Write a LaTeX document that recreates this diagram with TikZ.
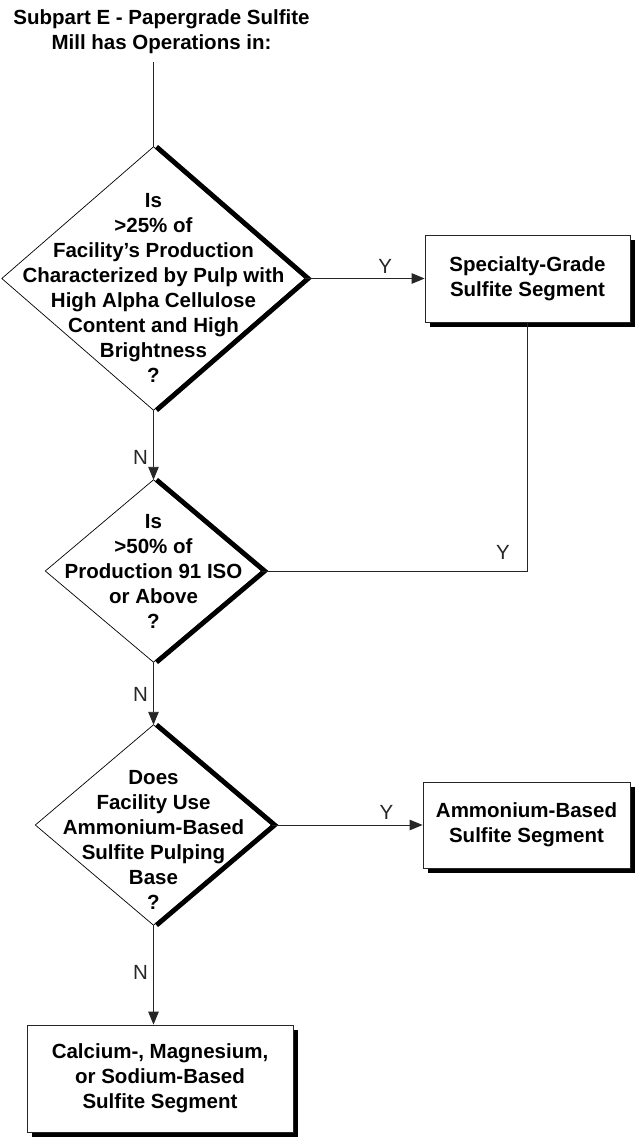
\documentclass[tikz,border=0pt]{standalone}
\usepackage{fontspec}
\setmainfont{Liberation Sans}
\usetikzlibrary{arrows.meta,shadows}
\tikzset{
  txt/.style = {align=center, inner sep=0pt, text centered,
    font=\bfseries\fontsize{20.5}{25}\selectfont},
  dec/.style 2 args = {txt, rectangle, minimum width=#1, minimum height=#2},% decision (diamond drawn from its anchors)
  seg/.style = {txt, rectangle, draw=black!85, line width=0.8pt, fill=white,
    drop shadow={shadow xshift=4.5pt, shadow yshift=-4.5pt, fill=black, opacity=1}},% segment box
  yn/.style = {font=\fontsize{20.5}{20.5}\selectfont, inner sep=2pt},% Y / N labels
  conn/.style = {black!85, line width=0.9pt},
  rim/.style = {line width=0.7pt},
  bold rim/.style = {line width=4.8pt}
}

\begin{document}
\begin{tikzpicture}[x=1pt,y=-1pt,>={Triangle[length=13pt,width=10.5pt]}]
\useasboundingbox (0,0) rectangle (639,1142);
\node [txt, inner ysep=8pt] (title) at (161.5,32) {Subpart E - Papergrade Sulfite\\Mill has Operations in:};

\node [dec={303pt}{263pt}] (q1) at (153.5,278.5)
  {\rule{0pt}{32pt}Is\\>25\% of\\Facility’s Production\\Characterized by Pulp with\\High Alpha Cellulose\\Content and High\\Brightness\\?};
\node [dec={216pt}{182pt}] (q2) at (153.5,571)
  {Is\\>50\% of\\Production 91 ISO\\or Above\\?};
\node [dec={236pt}{200pt}] (q3) at (153.5,825)
  {\rule{0pt}{44pt}Does\\Facility Use\\Ammonium-Based\\Sulfite Pulping\\Base\\?};

\node [seg, minimum width=205pt, minimum height=87pt] (spec) at (527.5,278.5) {Specialty-Grade\\Sulfite Segment};
\node [seg, minimum width=207pt, minimum height=86pt] (amm) at (526.5,825) {Ammonium-Based\\Sulfite Segment};
\node [seg, minimum width=266pt, minimum height=107pt] (cms) at (160,1078.5) {Calcium-, Magnesium,\\or Sodium-Based\\Sulfite Segment};

% diamonds with heavy right rim
\foreach \q in {q1,q2,q3} {
  \draw [rim] (\q.north) -- (\q.east) -- (\q.south) -- (\q.west) -- cycle;
  \draw [bold rim] ([xshift=3pt]\q.north) -- ([xshift=3pt]\q.east) -- ([xshift=3pt]\q.south);
}

\draw [conn] (title.south -| q1.north) -- (q1.north);
\draw [conn,->] (q1.east) -- (spec.west) node [yn, pos=0.67, above=3pt] {Y};
\draw [conn,->] (q1.south) -- (q2.north) node [yn, pos=0.68, left=3pt] {N};
\draw [conn] (spec.south) |- (q2.east) node [yn, pos=0.546, above=9pt] {Y};
\draw [conn,->] (q2.south) -- (q3.north) node [yn, pos=0.52, left=3pt] {N};
\draw [conn,->] (q3.east) -- (amm.west) node [yn, pos=0.76, above=3pt] {Y};
\draw [conn,->] (q3.south) -- (q3.south |- cms.north) node [yn, pos=0.475, left=3pt] {N};
\end{tikzpicture}
\end{document}
